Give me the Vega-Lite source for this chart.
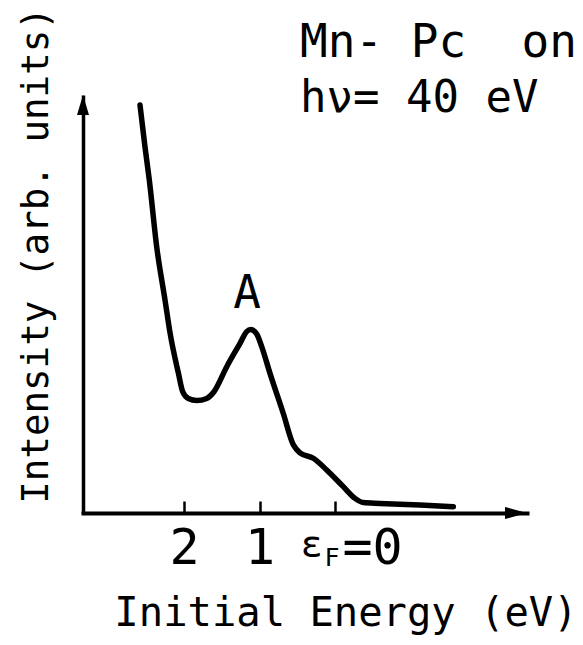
{
  "$schema": "https://vega.github.io/schema/vega-lite/v6.json",
  "width": 444,
  "height": 418,
  "autosize": {"type": "none"},
  "padding": {"left": 83, "top": 95, "right": 56, "bottom": 132},
  "background": "white",
  "config": {
    "view": {"stroke": null},
    "font": "DejaVu Sans Mono",
    "text": {"font": "DejaVu Sans Mono", "color": "black"}
  },
  "encoding": {
    "x": {
      "field": "E",
      "type": "quantitative",
      "scale": {"domain": [-2.543, 3.338], "reverse": true, "nice": false, "zero": false},
      "axis": {
        "values": [2, 1, 0],
        "labelExpr": "datum.value == 0 ? '=0' : datum.label",
        "labelAlign": {"condition": {"test": "datum.value == 0", "value": "left"}, "value": "center"},
        "labelOffset": {"condition": {"test": "datum.value == 0", "value": 7}, "value": 0},
        "labelFont": "DejaVu Sans Mono",
        "labelFontSize": 50,
        "labelColor": "black",
        "labelBaseline": "alphabetic",
        "labelPadding": 62,
        "labelFlush": false,
        "labelOverlap": false,
        "tickSize": -12,
        "tickWidth": 2.5,
        "tickColor": "black",
        "domainColor": "black",
        "domainWidth": 4,
        "domainCap": "square",
        "grid": false,
        "title": "Initial Energy (eV)",
        "titleFont": "DejaVu Sans Mono",
        "titleFontSize": 40.5,
        "titleFontWeight": "normal",
        "titleColor": "black",
        "titleX": 262.5,
        "titleY": 112,
        "titleAlign": "center",
        "titleBaseline": "alphabetic"
      }
    },
    "y": {
      "field": "I",
      "type": "quantitative",
      "scale": {"domain": [0, 100], "nice": false, "zero": false},
      "axis": {
        "ticks": false,
        "labels": false,
        "grid": false,
        "domainColor": "black",
        "domainWidth": 3.5,
        "title": "Intensity (arb. units)",
        "titleFont": "DejaVu Sans Mono",
        "titleFontSize": 37.5,
        "titleFontWeight": "normal",
        "titleColor": "black",
        "titleAngle": -90,
        "titleX": -36,
        "titleY": 160,
        "titleAlign": "center",
        "titleBaseline": "alphabetic"
      }
    }
  },
  "layer": [
    {
      "data": {"values": [
        {"E": 2.583, "I": 97.6},
        {"E": 2.517, "I": 87.6},
        {"E": 2.460, "I": 79.7},
        {"E": 2.362, "I": 63.7},
        {"E": 2.252, "I": 51.0},
        {"E": 2.185, "I": 43.1},
        {"E": 2.075, "I": 33.5},
        {"E": 2.017, "I": 29.0},
        {"E": 1.943, "I": 27.4},
        {"E": 1.832, "I": 26.9},
        {"E": 1.699, "I": 27.4},
        {"E": 1.603, "I": 29.0},
        {"E": 1.434, "I": 35.0},
        {"E": 1.258, "I": 40.6},
        {"E": 1.170, "I": 43.4},
        {"E": 1.117, "I": 43.9},
        {"E": 1.037, "I": 42.8},
        {"E": 0.971, "I": 39.8},
        {"E": 0.861, "I": 33.4},
        {"E": 0.685, "I": 23.8},
        {"E": 0.552, "I": 16.3},
        {"E": 0.464, "I": 14.4},
        {"E": 0.287, "I": 13.1},
        {"E": 0.110, "I": 10.3},
        {"E": -0.110, "I": 6.3},
        {"E": -0.265, "I": 3.5},
        {"E": -0.375, "I": 2.5},
        {"E": -0.596, "I": 2.3},
        {"E": -1.126, "I": 1.9},
        {"E": -1.567, "I": 1.5}
      ]},
      "mark": {"type": "line", "color": "black", "strokeWidth": 5.5, "strokeCap": "round", "strokeJoin": "round", "interpolate": "monotone"}
    },
    {
      "data": {"values": [
        {"E": 3.338, "I": 100, "dir": "up"},
        {"E": -2.543, "I": 0, "dir": "right"}
      ]},
      "mark": {"type": "point", "filled": true, "color": "black", "opacity": 1, "size": 400, "strokeWidth": 0},
      "encoding": {
        "shape": {
          "field": "dir",
          "type": "nominal",
          "scale": {"domain": ["up", "right"], "range": ["M0,0L0.6,2L-0.6,2Z", "M0,0L-2.2,-0.6L-2.2,0.6Z"]},
          "legend": null
        }
      }
    },
    {
      "data": {"values": [
        {"label": "Mn-\u00a0Pc\u00a0\u00a0on", "E": 0.464, "I": 109.1}
      ]},
      "mark": {"type": "text", "fontSize": 46, "align": "left", "baseline": "alphabetic"},
      "encoding": {"text": {"field": "label"}}
    },
    {
      "data": {"values": [
        {"label": "hν=\u00a040\u00a0eV", "E": 0.464, "I": 95.9}
      ]},
      "mark": {"type": "text", "fontSize": 44, "align": "left", "baseline": "alphabetic"},
      "encoding": {"text": {"field": "label"}}
    },
    {
      "data": {"values": [{"label": "A", "E": 1.166, "I": 49.0}]},
      "mark": {"type": "text", "fontSize": 46, "align": "center", "baseline": "alphabetic"},
      "encoding": {"text": {"field": "label"}}
    },
    {
      "data": {"values": [{"label": "ε", "E": 0.31, "I": -10.5}]},
      "mark": {"type": "text", "fontSize": 37, "align": "center", "baseline": "alphabetic"},
      "encoding": {"text": {"field": "label"}}
    },
    {
      "data": {"values": [{"label": "F", "E": 0.04, "I": -12.6}]},
      "mark": {"type": "text", "fontSize": 25, "align": "center", "baseline": "alphabetic"},
      "encoding": {"text": {"field": "label"}}
    }
  ]
}
